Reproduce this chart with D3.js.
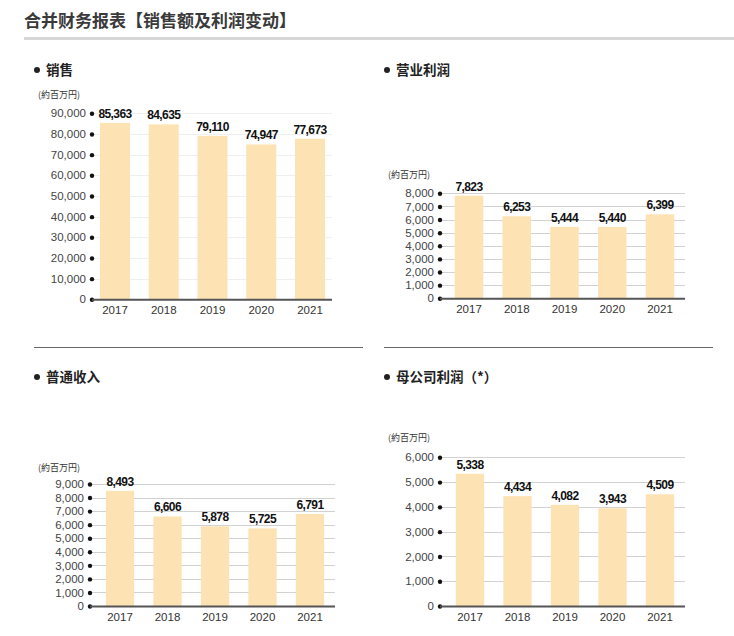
<!DOCTYPE html>
<html><head><meta charset="utf-8">
<script src="https://cdn.jsdelivr.net/npm/d3@7"></script>
<style>
body{margin:0;background:#fff;}
svg{display:block;font-family:"Liberation Sans",Arial,"Noto Sans CJK SC",sans-serif;}
.cjk{font-family:"Noto Sans CJK SC","Noto Sans CJK JP",sans-serif;}
</style></head>
<body>
<script>
const years = ["2017","2018","2019","2020","2021"];
const salesValues = [85363, 84635, 79110, 74947, 77673];
const opProfitValues = [7823, 6253, 5444, 5440, 6399];
const ordinaryIncomeValues = [8493, 6606, 5878, 5725, 6791];
const parentProfitValues = [5338, 4434, 4082, 3943, 4509];
const salesTicks = [0,10000,20000,30000,40000,50000,60000,70000,80000,90000];
const opTicks = [0,1000,2000,3000,4000,5000,6000,7000,8000];
const ordTicks = [0,1000,2000,3000,4000,5000,6000,7000,8000,9000];
const parentTicks = [0,1000,2000,3000,4000,5000,6000];
const mainTitle = "合并财务报表【销售额及利润变动】";
const chartTitles = ["销售","营业利润","普通收入","母公司利润（*）"];
const unitLabel = "(約百万円)";

const W = 734, H = 636;
const svg = d3.select("body").append("svg").attr("width", W).attr("height", H);

svg.append("text").attr("class","cjk").attr("x",24).attr("y",27)
  .attr("font-size",17).attr("font-weight","bold").attr("fill","#3a3a3a").text(mainTitle);
svg.append("rect").attr("x",24).attr("y",37).attr("width",710).attr("height",3).attr("fill","#d6d6d6");

// separators
svg.append("line").attr("x1",34).attr("x2",363).attr("y1",347.5).attr("y2",347.5).attr("stroke","#666").attr("stroke-width",1);
svg.append("line").attr("x1",384).attr("x2",713).attr("y1",347.5).attr("y2",347.5).attr("stroke","#666").attr("stroke-width",1);

const charts = [
  {title: chartTitles[0], values: salesValues, ticks: salesTicks, max: 90000,
   bx: 37, by: 70, unitY: 98, x0: 92, xEnd: 332, c0: 115, c1: 310, bw: 30, y0: 299.3, yTop: 113.3, grid: "#efefef"},
  {title: chartTitles[1], values: opProfitValues, ticks: opTicks, max: 8000,
   bx: 387, by: 70, unitY: 178, x0: 440, xEnd: 685, c0: 469, c1: 660, bw: 28.5, y0: 298.3, yTop: 193.3, grid: "#d2d2d2"},
  {title: chartTitles[2], values: ordinaryIncomeValues, ticks: ordTicks, max: 9000,
   bx: 37, by: 377, unitY: 471, x0: 90, xEnd: 335, c0: 120, c1: 310, bw: 28.3, y0: 606, yTop: 484, grid: "#d2d2d2"},
  {title: chartTitles[3], values: parentProfitValues, ticks: parentTicks, max: 6000,
   bx: 387, by: 377, unitY: 441, x0: 440, xEnd: 685, c0: 470, c1: 660, bw: 28.3, y0: 606, yTop: 457.3, grid: "#d2d2d2"}
];

const fmt = d3.format(",");

charts.forEach(c => {
  const g = svg.append("g");
  g.append("circle").attr("cx",c.bx).attr("cy",c.by).attr("r",3).attr("fill","#222");
  g.append("text").attr("class","cjk").attr("x",c.bx+9).attr("y",c.by+5)
    .attr("font-size",13.5).attr("font-weight","bold").attr("fill","#222").text(c.title);
  g.append("text").attr("class","cjk").attr("x",c.bx+1).attr("y",c.unitY)
    .attr("font-size",9).attr("fill","#333").text(unitLabel);

  const step = (c.c1 - c.c0)/(years.length-1);
  const p = 1 - c.bw/step;
  const x = d3.scaleBand().domain(years)
    .range([c.c0 - step/2, c.c1 + step/2]).paddingInner(p).paddingOuter(p/2);
  const y = d3.scaleLinear().domain([0, c.max]).range([c.y0, c.yTop]);

  // gridlines
  g.selectAll(".grid").data(c.ticks.filter(t => t>0)).enter().append("line")
    .attr("x1",c.x0).attr("x2",c.xEnd)
    .attr("y1",d=>Math.round(y(d))+0.5).attr("y2",d=>Math.round(y(d))+0.5)
    .attr("stroke",c.grid).attr("stroke-width",1);

  // bars
  g.selectAll(".bar").data(c.values).enter().append("rect")
    .attr("x",(d,i)=>x(years[i])).attr("width",x.bandwidth())
    .attr("y",d=>y(d)).attr("height",d=>c.y0 - y(d))
    .attr("fill","#fde3b3");

  // value labels
  g.selectAll(".val").data(c.values).enter().append("text")
    .attr("x",(d,i)=>x(years[i])+x.bandwidth()/2).attr("y",d=>y(d)-5)
    .attr("text-anchor","middle").attr("font-size",12).attr("font-weight","bold")
    .attr("letter-spacing","-0.6")
    .attr("fill","#111").text(d=>fmt(d));

  // y axis: labels + dots
  const yAxis = d3.axisLeft(y).tickValues(c.ticks).tickFormat(fmt).tickSize(0).tickPadding(6);
  const ya = g.append("g").attr("transform",`translate(${c.x0},0)`).call(yAxis);
  ya.select(".domain").remove();
  ya.selectAll("text").attr("font-size",11.5).attr("fill","#444")
    .attr("font-family","'Liberation Sans',Arial,sans-serif");
  ya.selectAll(".tick").append("circle").attr("cx",0).attr("cy",0).attr("r",2.2).attr("fill","#111");

  // baseline
  g.append("line").attr("x1",c.x0).attr("x2",c.xEnd).attr("y1",c.y0+0.5).attr("y2",c.y0+0.5)
    .attr("stroke","#555").attr("stroke-width",2);

  // x axis labels
  const xAxis = d3.axisBottom(x).tickSize(0).tickPadding(7);
  const xa = g.append("g").attr("transform",`translate(0,${c.y0})`).call(xAxis);
  xa.select(".domain").remove();
  xa.selectAll("text").attr("font-size",11.5).attr("fill","#333")
    .attr("font-family","'Liberation Sans',Arial,sans-serif");
});
</script>
</body></html>
